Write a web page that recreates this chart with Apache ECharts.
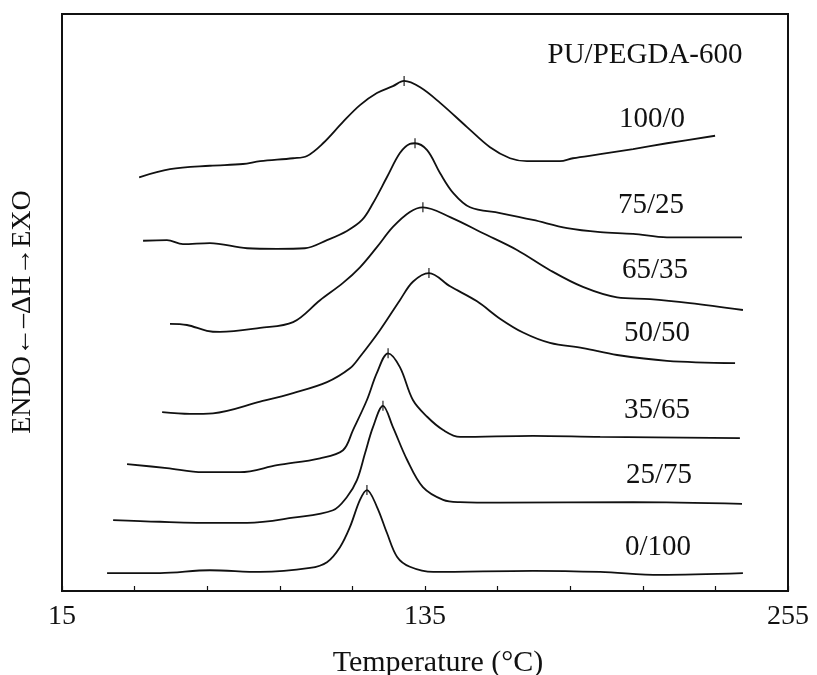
<!DOCTYPE html>
<html>
<head>
<meta charset="utf-8">
<title>DSC curves PU/PEGDA-600</title>
<script src="https://cdn.jsdelivr.net/npm/echarts@6/dist/echarts.min.js"></script>
<style>
  html, body { margin: 0; padding: 0; background: #fff; }
  #chart { width: 817px; height: 675px; }
</style>
</head>
<body>
<div id="chart"></div>
<script>
// Axis ticks and labels (temperature, °C)
const tickValues = [15, 39, 63, 87, 111, 135, 159, 183, 207, 231, 255];
const labelValues = [15, 135, 255];

// Blend ratios, top trace first
const blends = ['100/0', '75/25', '65/35', '50/50', '35/65', '25/75', '0/100'];

// Temperatures (°C) and heat-flow signal (arbitrary units, stacked offsets) for each blend
const temp_100_0 = [40.5, 50.7, 63.9, 74.8, 80.5, 91.4, 96.0, 101.3, 107.9, 113.5, 119.1, 124.4, 128.1, 133.4, 140.0, 148.9, 156.5, 163.1, 168.7, 179.6, 183.9, 192.9, 203.8, 215.0, 230.9];
const heat_100_0 = [71.7, 73.1, 73.7, 74.0, 74.5, 75.0, 75.4, 77.6, 81.3, 84.2, 86.3, 87.5, 88.4, 87.3, 84.6, 80.4, 76.9, 75.0, 74.5, 74.5, 75.0, 75.7, 76.6, 77.6, 78.9];

const temp_75_25 = [41.8, 49.7, 55.0, 63.9, 76.2, 86.1, 95.3, 102.6, 109.2, 114.2, 117.8, 122.4, 126.7, 130.0, 131.7, 135.7, 140.0, 144.3, 149.9, 159.8, 170.7, 182.0, 192.9, 203.8, 215.0, 239.8];
const heat_75_25 = [60.7, 60.8, 60.1, 60.3, 59.4, 59.3, 59.4, 60.8, 62.4, 64.3, 67.2, 71.7, 75.9, 77.5, 77.6, 76.4, 72.4, 69.0, 66.5, 65.5, 64.3, 62.9, 62.2, 61.9, 61.3, 61.3];

const temp_65_35 = [50.7, 56.3, 62.9, 67.2, 80.5, 91.4, 100.3, 107.9, 113.5, 119.1, 124.4, 130.0, 134.3, 143.3, 154.2, 165.4, 176.3, 187.2, 198.5, 209.4, 222.6, 240.1];
const heat_65_35 = [46.3, 46.1, 45.1, 44.9, 45.6, 46.6, 50.4, 53.4, 56.1, 59.6, 63.1, 65.7, 66.5, 64.8, 62.0, 59.1, 55.6, 52.7, 50.9, 50.6, 49.9, 48.7];

const temp_50_50 = [48.1, 57.3, 64.9, 80.5, 91.4, 102.6, 110.2, 113.5, 120.1, 126.7, 131.0, 136.3, 143.3, 152.2, 159.8, 167.4, 176.3, 187.2, 198.5, 215.0, 237.5];
const heat_50_50 = [31.0, 30.7, 30.8, 32.8, 34.3, 36.2, 38.6, 40.6, 45.2, 50.4, 53.6, 55.1, 52.8, 50.2, 47.2, 44.8, 43.0, 42.1, 40.9, 39.9, 39.5];

const temp_35_65 = [36.5, 49.7, 61.6, 73.8, 86.1, 100.3, 107.9, 111.2, 115.8, 119.1, 122.8, 126.7, 131.0, 135.7, 141.0, 146.6, 170.7, 192.9, 239.1];
const heat_35_65 = [22.0, 21.3, 20.6, 20.6, 21.8, 23.0, 24.4, 27.9, 33.1, 37.8, 41.2, 38.8, 33.1, 30.2, 27.9, 26.7, 26.9, 26.7, 26.5];

const temp_25_75 = [31.9, 47.4, 66.2, 76.2, 91.4, 104.6, 109.2, 112.5, 115.2, 117.8, 121.1, 124.4, 129.1, 134.3, 141.0, 146.6, 159.8, 203.8, 239.8];
const heat_25_75 = [12.3, 12.0, 11.8, 11.8, 12.7, 14.0, 16.3, 19.2, 23.9, 28.4, 32.1, 28.4, 22.7, 18.0, 15.8, 15.4, 15.3, 15.4, 15.1];

const temp_0_100 = [29.9, 47.4, 63.9, 80.5, 97.0, 102.6, 106.9, 110.2, 113.5, 115.8, 119.1, 122.4, 125.8, 130.0, 137.7, 170.7, 192.9, 212.7, 240.1];
const heat_0_100 = [3.1, 3.1, 3.6, 3.3, 4.0, 5.0, 7.6, 11.1, 15.8, 17.5, 14.6, 10.1, 5.9, 4.2, 3.3, 3.5, 3.3, 2.8, 3.1];

const temps = [temp_100_0, temp_75_25, temp_65_35, temp_50_50, temp_35_65, temp_25_75, temp_0_100];
const heats = [heat_100_0, heat_75_25, heat_65_35, heat_50_50, heat_35_65, heat_25_75, heat_0_100];

const SERIF = '"Liberation Serif", "DejaVu Serif", serif';
const INK = '#111';

// Pair temperature with signal for each trace
const traces = temps.map((t, i) => t.map((x, j) => [x, heats[i][j]]));

// Crystallisation peak of each trace: the point of maximum signal
const peaks = traces.map(tr => tr.reduce((a, b) => (b[1] > a[1] ? b : a)));

const series = traces.map((tr, i) => ({
  name: blends[i],
  type: 'line',
  data: tr,
  smooth: 0.35,
  showSymbol: false,
  lineStyle: { color: INK, width: 1.8 },
  silent: true,
  z: 3
}));

// Short vertical tick marking each peak
series.push({
  type: 'scatter',
  data: peaks,
  symbol: 'rect',
  symbolSize: [1.4, 10],
  itemStyle: { color: INK },
  silent: true,
  z: 4
});

// Blend labels placed to the right of their traces
const labelPos = [
  ['PU/PEGDA-600', 645, 55],
  [blends[0], 652, 119],
  [blends[1], 651, 205],
  [blends[2], 655, 270],
  [blends[3], 657, 333],
  [blends[4], 657, 410],
  [blends[5], 659, 475],
  [blends[6], 658, 547]
];
const graphic = labelPos.map(([text, x, y]) => ({
  type: 'text',
  x: x,
  y: y,
  style: {
    text: text,
    fill: INK,
    font: '29px ' + SERIF,
    textAlign: 'center',
    textVerticalAlign: 'middle'
  },
  silent: true
}));

// Vertical axis title (heat flow direction)
graphic.push({
  type: 'text',
  x: 23,
  y: 312,
  rotation: Math.PI / 2,
  style: {
    text: 'ENDO←–ΔH→EXO',
    fill: INK,
    font: '28px ' + SERIF,
    textAlign: 'center',
    textVerticalAlign: 'middle'
  },
  silent: true
});

const chart = echarts.init(document.getElementById('chart'), null, { renderer: 'canvas' });
chart.setOption({
  animation: false,
  backgroundColor: '#fff',
  grid: {
    left: 62, right: 29, top: 14, bottom: 84,
    show: true,
    borderColor: INK,
    borderWidth: 2,
    backgroundColor: 'transparent',
    outerBoundsMode: 'none'
  },
  xAxis: {
    type: 'value',
    min: 15,
    max: 255,
    name: 'Temperature (°C)',
    nameLocation: 'middle',
    nameGap: 57,
    nameTextStyle: { fontFamily: SERIF, fontSize: 30, color: INK, padding: [0, 0, 0, 26] },
    axisLine: { show: true, lineStyle: { color: INK, width: 2 } },
    axisTick: {
      show: true,
      inside: true,
      length: 5,
      customValues: tickValues,
      lineStyle: { color: INK, width: 1.2 }
    },
    axisLabel: {
      customValues: labelValues,
      margin: 12,
      fontFamily: SERIF,
      fontSize: 28,
      color: INK
    },
    splitLine: { show: false }
  },
  yAxis: {
    type: 'value',
    min: 0,
    max: 100,
    axisLine: { show: false },
    axisTick: { show: false },
    axisLabel: { show: false },
    splitLine: { show: false }
  },
  graphic: graphic,
  series: series
});
</script>
</body>
</html>
